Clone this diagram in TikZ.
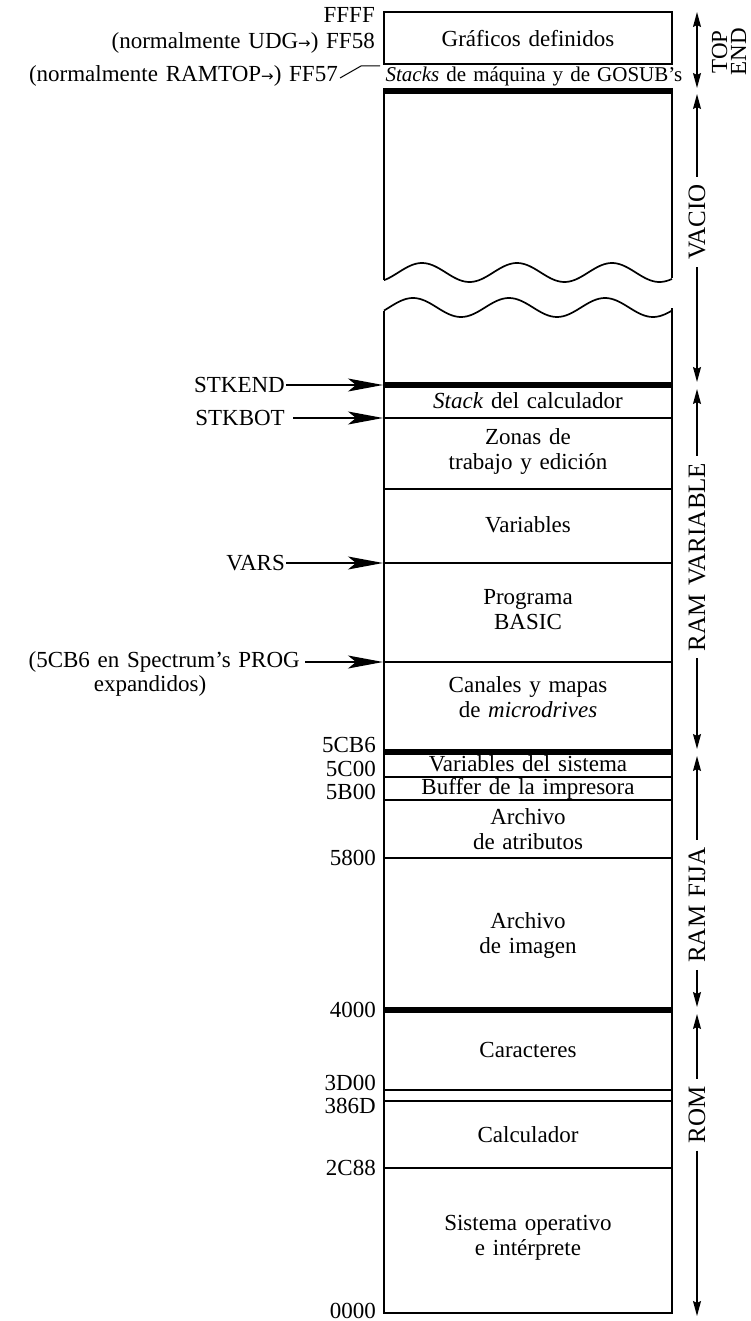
\documentclass[tikz,border=0pt]{standalone}
\usepackage{fontspec}
\setmainfont{Liberation Serif}[WordSpace=1.35]
\newfontfamily\arrfont{DejaVu Sans}
\usetikzlibrary{arrows.meta}
\newcommand{\smarr}{{\arrfont\fontsize{15}{15}\selectfont →}}
\begin{document}
\begin{tikzpicture}[x=1pt,y=-1pt,
  txt/.style={font=\fontsize{23}{25}\selectfont, inner sep=0pt, align=center},
  lbl/.style={font=\fontsize{23}{25}\selectfont, inner sep=0pt, anchor=east},
  rot/.style={font=\fontsize{25}{25}\selectfont, rotate=90, inner sep=7pt, align=center},
  thinl/.style={line width=1.7pt},
  heavy/.style={line width=6pt},
  ptr/.style={line width=1.4pt, -{Stealth[length=35pt,width=13pt,inset=8pt]}},
  axis/.style={line width=1.4pt, >={Stealth[length=15pt,width=8pt,inset=2pt]}}
]
\useasboundingbox (0,0) rectangle (750,1321);

% ---------- top box ----------
\draw[thinl] (384,12) rectangle (672,64);
\node[txt] (graf) at (528,39) {Gráficos definidos};
\node[txt, font=\fontsize{21}{25}\selectfont] (stacks) at (534,76) {\textit{Stacks} de máquina y de GOSUB’s};
\draw[heavy] (384,91) -- (672,91);

% ---------- empty region with break ----------
\draw[thinl] (384,280) -- (384,88);
\draw[thinl] (672,88) -- (672,278);
\draw[thinl] plot[domain=384:672, samples=120] (\x, {272.5 - 9.5*cos((\x-422)*3.79)});
\draw[thinl] plot[domain=384:672, samples=120] (\x, {307.5 - 9.5*cos((\x-413)*3.75)});
\draw[thinl] (384,311) -- (384,1313) -- (672,1313) -- (672,308);

% ---------- dividers ----------
\draw[heavy] (384,385) -- (672,385);
\draw[thinl] (384,418) -- (672,418);
\draw[thinl] (384,489) -- (672,489);
\draw[thinl] (384,563) -- (672,563);
\draw[thinl] (384,662) -- (672,662);
\draw[heavy] (384,752) -- (672,752);
\draw[thinl] (384,777) -- (672,777);
\draw[thinl] (384,800) -- (672,800);
\draw[thinl] (384,858) -- (672,858);
\draw[heavy] (384,1010) -- (672,1010);
\draw[thinl] (384,1090) -- (672,1090);
\draw[thinl] (384,1101) -- (672,1101);
\draw[thinl] (384,1168) -- (672,1168);

% ---------- region texts ----------
\node[txt] (stk)  at (528,401) {\textit{Stack} del calculador};
\node[txt] (zon)  at (528,452) {Zonas de\\trabajo y edición};
\node[txt] (var)  at (528,525) {Variables};
\node[txt] (prg)  at (528,610) {Programa\\BASIC};
\node[txt] (can)  at (528,697) {Canales y mapas\\de \textit{microdrives}};
\node[txt] (vsis) at (528,764) {Variables del sistema};
\node[txt] (buf)  at (528,789) {Buffer de la impresora};
\node[txt] (atr)  at (528,829) {Archivo\\de atributos};
\node[txt] (img)  at (528,935) {Archivo\\de imagen};
\node[txt] (car)  at (528,1050) {Caracteres};
\node[txt] (calc) at (528,1135) {Calculador};
\node[txt] (sis)  at (528,1238) {Sistema operativo\\e intérprete};

% ---------- left labels ----------
\node[lbl] (ffff) at (375,15) {FFFF};
\node[lbl] (ff58) at (375,43) {(normalmente UDG\smarr) FF58};
\node[lbl] (ff57) at (338,76) {(normalmente RAMTOP\smarr) FF57};
\coordinate (ld1) at (361,66);
\coordinate (ld2) at (380,66);
\draw[line width=1pt] ([xshift=2pt,yshift=-2pt]ff57.east) -- (ld1) -- (ld2);

\node[lbl] (stkend) at (285,385) {STKEND};
\node[lbl] (stkbot) at (285,418) {STKBOT};
\node[lbl] (vars)   at (285,563) {VARS};
\node[lbl] (prog)   at (300,662) {(5CB6 en Spectrum’s PROG};
\node[txt] (expa)   at (150,686) {expandidos)};
\coordinate (pse) at (383,385);
\coordinate (psb) at (383,418);
\coordinate (pva) at (383,563);
\coordinate (ppr) at (383,662);
\draw[ptr] ([xshift=1pt]stkend.east) -- (pse);
\draw[ptr] ([xshift=8pt]stkbot.east) -- (psb);
\draw[ptr] ([xshift=1pt]vars.east) -- (pva);
\draw[ptr] ([xshift=5pt]prog.east) -- (ppr);

\node[lbl] (a5cb6) at (376,745) {5CB6};
\node[lbl] (a5c00) at (376,769) {5C00};
\node[lbl] (a5b00) at (376,792) {5B00};
\node[lbl] (a5800) at (376,858) {5800};
\node[lbl] (a4000) at (376,1010) {4000};
\node[lbl] (a3d00) at (376,1083) {3D00};
\node[lbl] (a386d) at (376,1106) {386D};
\node[lbl] (a2c88) at (376,1168) {2C88};
\node[lbl] (a0000) at (376,1311) {0000};

% ---------- right axis ----------
\coordinate (t1) at (697,12);
\coordinate (t2) at (697,88);
\draw[axis,<->] (t1) -- (t2);
\node[font=\fontsize{23}{19}\selectfont, rotate=90, inner sep=0pt, align=center] (topend) at (729,52) {TOP\\END};

\coordinate (v1) at (697,94);
\coordinate (v2) at (697,382);
\node[rot] (vacio) at (697,222) {VACIO};
\draw[axis,<-] (v1) -- (vacio.east);
\draw[axis,->] (vacio.west) -- (v2);

\coordinate (r1) at (697,389);
\coordinate (r2) at (697,749);
\node[rot] (ramv) at (697,557) {RAM VARIABLE};
\draw[axis,<-] (r1) -- (ramv.east);
\draw[axis,->] (ramv.west) -- (r2);

\coordinate (f1) at (697,756);
\coordinate (f2) at (697,1007);
\node[rot] (ramf) at (697,905) {RAM FIJA};
\draw[axis,<-] (f1) -- (ramf.east);
\draw[axis,->] (ramf.west) -- (f2);

\coordinate (o1) at (697,1014);
\coordinate (o2) at (697,1316);
\node[rot] (rom) at (697,1115) {ROM};
\draw[axis,<-] (o1) -- (rom.east);
\draw[axis,->] (rom.west) -- (o2);
\end{tikzpicture}
\end{document}
